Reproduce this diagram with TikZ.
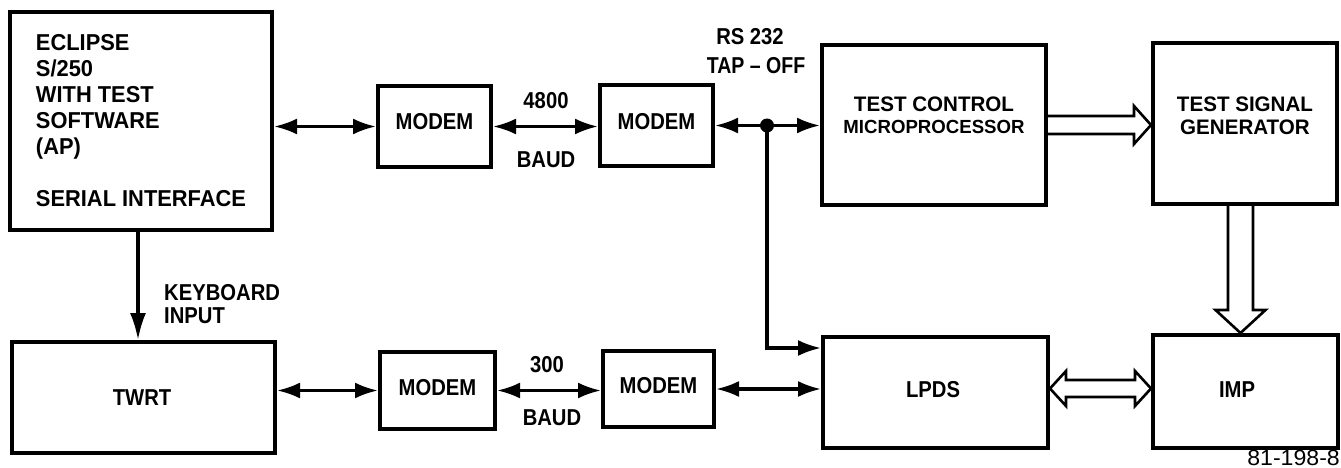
\documentclass[tikz,border=0pt]{standalone}
\usepackage{fontspec}
\setmainfont{Liberation Sans}[FakeStretch=0.88]
\newfontfamily\eclfont{Liberation Sans}[FakeStretch=0.95]
\newfontfamily\tcfont{Liberation Sans}[FakeStretch=0.98]
\newfontfamily\idfont{Liberation Sans}[FakeStretch=1.05]
\usetikzlibrary{arrows.meta,calc}
\begin{document}
\begin{tikzpicture}[x=1pt,y=-1pt,
  every node/.style={font=\fontsize{23}{26}\selectfont\bfseries},
  box/.style={draw,line width=4pt,inner sep=0pt,align=center},
  conn/.style={line width=3.2pt},
  tipp/.tip={Latex[length=23pt,width=16pt]},
  longtip/.tip={Latex[length=27pt,width=16pt]},
  arr/.style={conn,-tipp},
  darr/.style={conn,tipp-tipp},
  hollow/.style={line width=2.6pt,line join=miter},
  lbl/.style={inner sep=0pt,align=center}]
\useasboundingbox (0,0) rectangle (1341,468);

% boxes
\node[box,minimum width=262pt,minimum height=218pt,align=left,
  font=\fontsize{23}{26}\selectfont\eclfont\bfseries] (ecl) at (141,121)
  {ECLIPSE\\S/250\\WITH TEST\\SOFTWARE\\(AP)\\[26pt]SERIAL INTERFACE};
\node[box,minimum width=113pt,minimum height=81pt] (mod1) at (434.5,126.5) {};
\node[box,minimum width=113pt,minimum height=81pt] (mod2) at (656.5,125.5) {};
\node[box,minimum width=224pt,minimum height=160pt] (tc) at (934,125) {};
\node[box,minimum width=184pt,minimum height=161pt] (tsg) at (1245,123.5) {};
\node[box,minimum width=263pt,minimum height=111pt] (twrt) at (143.5,397.5) {};
\node[box,minimum width=115pt,minimum height=77pt] (mod3) at (437.5,390.5) {};
\node[box,minimum width=111pt,minimum height=76pt] (mod4) at (658.5,389) {};
\node[box,minimum width=225pt,minimum height=111pt] (lpds) at (935.5,392.5) {};
\node[box,minimum width=185pt,minimum height=113pt] (imp) at (1245.5,391.5) {};

% box texts
\node[lbl] (tmod1) at (434.5,121.5) {MODEM};
\node[lbl] (tmod2) at (656.5,121.5) {MODEM};
\node[lbl,font=\fontsize{21}{22}\selectfont\tcfont\bfseries] (ttc1) at (934,104) {TEST CONTROL};
\node[lbl,font=\fontsize{19}{22}\selectfont\tcfont\bfseries] (ttc2) at (934,126.5) {MICROPROCESSOR};
\node[lbl,font=\fontsize{21}{22}\selectfont\tcfont\bfseries] (ttsg1) at (1245,104) {TEST SIGNAL};
\node[lbl,font=\fontsize{21}{22}\selectfont\tcfont\bfseries] (ttsg2) at (1245,127.5) {GENERATOR};
\node[lbl] (ttwrt) at (142,398) {TWRT};
\node[lbl] (tmod3) at (437.5,388) {MODEM};
\node[lbl] (tmod4) at (658.5,386) {MODEM};
\node[lbl] (tlpds) at (933,390) {LPDS};
\node[lbl] (timp) at (1237,390) {IMP};

% labels
\node[lbl] (l4800) at (546,101) {4800};
\node[lbl] (lbaud1) at (546,160) {BAUD};
\node[lbl] (lrs) at (750,37) {RS 232};
\node[lbl,font=\fontsize{23}{26}\selectfont\bfseries\addfontfeatures{FakeStretch=0.85}] (ltap) at (756,66) {TAP -- OFF};
\node[lbl,anchor=west] (lkey1) at (164,292.5) {KEYBOARD};
\node[lbl,anchor=west] (lkey2) at (164,315.5) {INPUT};
\node[lbl] (l300) at (547,365) {300};
\node[lbl] (lbaud2) at (552,418) {BAUD};
\node[lbl,anchor=east,font=\fontsize{22}{22}\selectfont\idfont] (lid) at (1340,458) {81-198-8};

% top row connectors
\draw[darr] (ecl.east |- mod1.west) -- (mod1.west);
\draw[darr] (mod1.east) -- (mod1.east -| mod2.west);
\coordinate (j) at (767,125.5);
\draw[conn,tipp-] (mod2.east) -- (j);
\draw[arr] (j) -- (j -| tc.west);
\fill (j) circle (7pt);
\draw[arr] (j) |- ([yshift=44.5pt]lpds.west);

% keyboard
\draw[conn,-longtip] ([xshift=-3pt]ecl.south) -- ([xshift=-3pt]ecl.south |- twrt.north);

% bottom row connectors
\draw[darr] (twrt.east |- mod3.west) -- (mod3.west);
\draw[darr] (mod3.east) -- (mod3.east -| mod4.west);
\draw[darr] (mod4.east) -- (mod4.east -| lpds.west);

% hollow arrow TC -> TSG
\draw[hollow] ($(tc.east)+(0,-9)$) -- ++(86,0) -- ++(0,-10) -- (tc.east -| tsg.west)
  -- ($(tc.east)+(86,19)$) -- ++(0,-10) -- ($(tc.east)+(0,9)$);

% hollow arrow TSG -> IMP
\coordinate (va) at ([xshift=-4.5pt]tsg.south);
\draw[hollow] ($(va)+(-12.5,0)$) -- ++(0,104) -- ++(-12.5,0) -- (va |- imp.north)
  -- ($(va)+(25,104)$) -- ++(-12.5,0) -- ($(va)+(12.5,0)$);

% hollow double arrow LPDS <-> IMP
\coordinate (h) at ([yshift=4pt]lpds.east);
\coordinate (hr) at (h -| imp.west);
\draw[hollow] (h) -- ($(h)+(16,-17.5)$) -- ++(0,9) -- ($(hr)+(-16,-8.5)$) -- ++(0,-9)
  -- (hr) -- ($(hr)+(-16,17.5)$) -- ++(0,-9) -- ($(h)+(16,8.5)$) -- ++(0,9) -- cycle;
\end{tikzpicture}
\end{document}
